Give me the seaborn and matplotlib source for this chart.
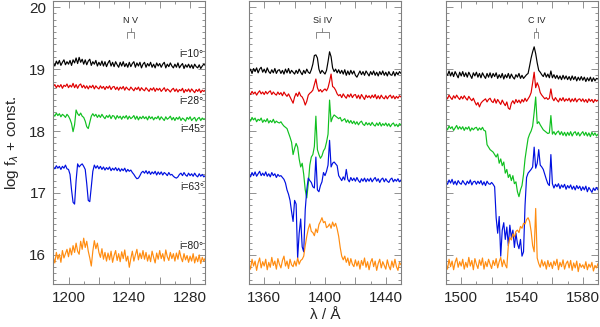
"""Model UV spectra around N V, Si IV and C IV for five inclinations."""
import matplotlib
matplotlib.use("Agg")
import matplotlib.pyplot as plt
from matplotlib.ticker import MultipleLocator, FuncFormatter
import numpy as np
import seaborn as sns

# wavelength grids (1 A steps) for the three panels
WL_NV = np.arange(1190, 1291)
WL_SI = np.arange(1350, 1451)
WL_CIV = np.arange(1490, 1591)

INCLINATIONS = ["i=10°", "i=28°", "i=45°", "i=63°", "i=80°"]
COLORS = ["#000000", "#e00000", "#10c020", "#0010e0", "#ff8c10"]

# doublet rest wavelengths marked with brackets
NV_LINES = [1238.8, 1242.8]
SI_LINES = [1393.8, 1402.8]
CIV_LINES = [1548.2, 1550.8]

# ---- N V panel ----
nv_10 = [19.10, 19.05, 19.13, 19.08, 19.14, 19.06, 19.11, 19.15, 19.07, 19.12,
         19.08, 19.14, 19.06, 19.15, 19.10, 19.18, 19.09, 19.19, 19.11, 19.16,
         19.08, 19.15, 19.07, 19.13, 19.16, 19.06, 19.12, 19.08, 19.14, 19.05,
         19.11, 19.06, 19.13, 19.05, 19.12, 19.04, 19.10, 19.14, 19.05, 19.11,
         19.04, 19.12, 19.07, 19.03, 19.11, 19.05, 19.12, 19.04, 19.09, 19.03,
         19.11, 19.04, 19.09, 19.12, 19.03, 19.10, 19.05, 19.11, 19.02, 19.08,
         19.11, 19.03, 19.09, 19.05, 19.11, 19.03, 19.08, 19.02, 19.10, 19.05,
         19.09, 19.03, 19.08, 19.11, 19.02, 19.08, 19.04, 19.10, 19.05, 19.02,
         19.08, 19.03, 19.10, 19.02, 19.06, 19.09, 19.01, 19.07, 19.03, 19.08,
         19.02, 19.07, 19.01, 19.08, 19.04, 19.02, 19.07, 19.01, 19.05, 19.08,
         19.06]
nv_28 = [18.72, 18.75, 18.70, 18.74, 18.71, 18.75, 18.69, 18.74, 18.72, 18.76,
         18.70, 18.74, 18.71, 18.77, 18.70, 18.75, 18.69, 18.74, 18.76, 18.70,
         18.74, 18.69, 18.73, 18.68, 18.73, 18.70, 18.74, 18.68, 18.73, 18.70,
         18.68, 18.73, 18.69, 18.72, 18.67, 18.72, 18.69, 18.73, 18.67, 18.71,
         18.72, 18.67, 18.71, 18.66, 18.71, 18.68, 18.72, 18.66, 18.71, 18.68,
         18.66, 18.71, 18.68, 18.65, 18.70, 18.67, 18.71, 18.65, 18.70, 18.67,
         18.65, 18.70, 18.67, 18.64, 18.69, 18.66, 18.70, 18.64, 18.69, 18.66,
         18.69, 18.64, 18.67, 18.70, 18.64, 18.68, 18.66, 18.63, 18.67, 18.69,
         18.64, 18.68, 18.63, 18.67, 18.65, 18.69, 18.62, 18.67, 18.64, 18.68,
         18.63, 18.68, 18.65, 18.62, 18.67, 18.64, 18.68, 18.62, 18.66, 18.64,
         18.66]
nv_45 = [18.27, 18.24, 18.29, 18.25, 18.28, 18.23, 18.27, 18.25, 18.22, 18.27,
         18.24, 18.19, 18.12, 17.99, 18.10, 18.34, 18.28, 18.25, 18.29, 18.24,
         18.22, 18.16, 18.07, 18.04, 18.14, 18.24, 18.28, 18.24, 18.27, 18.22,
         18.26, 18.22, 18.27, 18.23, 18.20, 18.25, 18.22, 18.26, 18.20, 18.25,
         18.24, 18.19, 18.25, 18.21, 18.24, 18.19, 18.24, 18.21, 18.25, 18.19,
         18.24, 18.20, 18.22, 18.25, 18.19, 18.24, 18.18, 18.23, 18.20, 18.24,
         18.20, 18.23, 18.18, 18.24, 18.20, 18.23, 18.18, 18.22, 18.20, 18.24,
         18.18, 18.23, 18.20, 18.17, 18.23, 18.19, 18.21, 18.24, 18.18, 18.22,
         18.17, 18.22, 18.19, 18.23, 18.17, 18.21, 18.19, 18.16, 18.22, 18.19,
         18.23, 18.17, 18.20, 18.22, 18.16, 18.20, 18.22, 18.17, 18.21, 18.19,
         18.20]
nv_63 = [17.42, 17.39, 17.44, 17.40, 17.43, 17.38, 17.43, 17.40, 17.45, 17.39,
         17.38, 17.30, 17.05, 16.85, 16.82, 17.20, 17.47, 17.42, 17.45, 17.47,
         17.43, 17.38, 17.15, 16.88, 16.86, 17.10, 17.35, 17.45, 17.40, 17.44,
         17.39, 17.43, 17.38, 17.42, 17.37, 17.41, 17.38, 17.42, 17.36, 17.40,
         17.37, 17.41, 17.36, 17.40, 17.35, 17.39, 17.36, 17.40, 17.34, 17.38,
         17.35, 17.37, 17.33, 17.30, 17.26, 17.23, 17.24, 17.28, 17.33, 17.35,
         17.32, 17.36, 17.31, 17.35, 17.30, 17.34, 17.31, 17.35, 17.29, 17.34,
         17.30, 17.34, 17.29, 17.33, 17.31, 17.28, 17.33, 17.29, 17.30, 17.27,
         17.25, 17.24, 17.26, 17.30, 17.32, 17.28, 17.33, 17.29, 17.27, 17.32,
         17.28, 17.31, 17.27, 17.32, 17.28, 17.26, 17.31, 17.27, 17.30, 17.26,
         17.28]
nv_80 = [15.96, 15.87, 16.04, 15.93, 16.01, 15.88, 16.07, 15.95, 16.02, 16.09,
         15.97, 16.11, 16.00, 16.15, 16.04, 16.19, 16.06, 16.01, 16.22, 16.09,
         16.27, 16.12, 16.22, 16.06, 15.95, 15.82, 16.06, 16.23, 16.10, 16.19,
         16.04, 15.96, 16.10, 15.93, 16.04, 15.90, 16.03, 15.92, 16.06, 15.88,
         15.99, 16.07, 15.91, 16.02, 15.89, 16.05, 15.94, 16.08, 15.90, 15.98,
         15.80, 15.94, 16.06, 15.90, 16.00, 16.09, 15.92, 16.03, 15.94, 16.07,
         15.93, 16.04, 15.90, 16.00, 15.89, 16.06, 15.96, 15.87, 16.03, 15.93,
         16.07, 15.94, 16.02, 15.90, 16.08, 15.97, 15.91, 16.04, 15.94, 16.02,
         15.90, 16.03, 15.93, 16.07, 15.96, 15.89, 16.02, 15.92, 15.99, 15.88,
         15.98, 15.90, 16.02, 15.87, 15.97, 15.89, 16.00, 15.86, 15.96, 15.90,
         15.95]

# ---- Si IV panel ----
si_10 = [18.95, 19.00, 18.93, 19.01, 18.96, 19.02, 18.94, 19.00, 19.03, 18.95,
         19.00, 18.94, 19.02, 18.96, 18.93, 18.99, 18.94, 19.01, 18.93, 18.98,
         18.99, 18.93, 18.98, 18.92, 19.00, 18.94, 19.01, 18.93, 18.98, 18.95,
         18.92, 18.98, 18.93, 19.00, 18.95, 18.91, 18.98, 18.93, 19.00, 18.95,
         18.93, 18.99, 19.08, 19.22, 19.23, 19.18, 19.00, 18.93, 18.98, 18.95,
         18.92, 18.98, 19.12, 19.28, 19.20, 19.02, 18.96, 19.00, 18.94, 18.99,
         18.93, 18.98, 18.92, 18.99, 18.90, 18.97, 18.91, 18.98, 18.92, 18.97,
         18.90, 18.87, 18.92, 18.97, 18.91, 18.96, 18.90, 18.97, 18.93, 18.89,
         18.96, 18.91, 18.97, 18.90, 18.95, 18.89, 18.96, 18.91, 18.97, 18.90,
         18.95, 18.89, 18.96, 18.91, 18.90, 18.96, 18.89, 18.95, 18.91, 18.96,
         18.93]
si_28 = [18.62, 18.59, 18.64, 18.60, 18.63, 18.58, 18.62, 18.65, 18.60, 18.63,
         18.59, 18.64, 18.60, 18.63, 18.65, 18.59, 18.63, 18.60, 18.58, 18.63,
         18.59, 18.62, 18.57, 18.63, 18.59, 18.56, 18.60, 18.55, 18.50, 18.45,
         18.55, 18.61, 18.56, 18.63, 18.57, 18.55, 18.50, 18.42, 18.48, 18.58,
         18.61, 18.63, 18.66, 18.75, 18.84, 18.70, 18.64, 18.67, 18.63, 18.66,
         18.68, 18.65, 18.70, 18.80, 18.92, 18.72, 18.70, 18.66, 18.60, 18.57,
         18.59, 18.54, 18.60, 18.56, 18.53, 18.59, 18.55, 18.60, 18.54, 18.58,
         18.59, 18.53, 18.58, 18.52, 18.59, 18.55, 18.51, 18.58, 18.54, 18.57,
         18.53, 18.58, 18.54, 18.59, 18.52, 18.57, 18.52, 18.58, 18.54, 18.52,
         18.57, 18.52, 18.56, 18.58, 18.53, 18.57, 18.52, 18.56, 18.53, 18.57,
         18.55]
si_45 = [18.20, 18.16, 18.22, 18.18, 18.21, 18.15, 18.19, 18.17, 18.21, 18.14,
         18.18, 18.15, 18.20, 18.13, 18.17, 18.14, 18.19, 18.13, 18.16, 18.14,
         18.13, 18.15, 18.11, 18.08, 18.06, 18.04, 17.97, 17.90, 17.82, 17.62,
         17.72, 17.80, 17.74, 17.55, 17.42, 17.48, 17.30, 17.05, 16.92, 17.15,
         17.45, 17.58, 17.62, 17.75, 18.24, 17.70, 17.62, 17.56, 17.60, 17.68,
         17.72, 17.82, 17.95, 18.50, 18.15, 18.22, 18.26, 18.24, 18.22, 18.20,
         18.22, 18.16, 18.18, 18.20, 18.14, 18.18, 18.13, 18.17, 18.12, 18.16,
         18.11, 18.15, 18.10, 18.14, 18.16, 18.11, 18.09, 18.14, 18.10, 18.13,
         18.09, 18.14, 18.10, 18.08, 18.13, 18.09, 18.14, 18.08, 18.12, 18.09,
         18.13, 18.08, 18.12, 18.07, 18.11, 18.13, 18.08, 18.11, 18.07, 18.12,
         18.10]
si_63 = [17.30, 17.26, 17.33, 17.28, 17.34, 17.27, 17.31, 17.35, 17.28, 17.32,
         17.28, 17.34, 17.27, 17.31, 17.26, 17.33, 17.28, 17.31, 17.25, 17.30,
         17.27, 17.28, 17.25, 17.22, 17.16, 17.05, 16.98, 16.88, 16.70, 16.54,
         16.88, 16.82, 15.95, 16.35, 16.58, 16.13, 16.05, 16.73, 17.05, 17.24,
         17.20, 17.17, 17.10, 17.08, 17.58, 17.05, 17.02, 17.12, 17.18, 17.33,
         17.28, 17.35, 17.45, 17.85, 17.42, 17.48, 17.50, 17.47, 17.44, 17.28,
         17.24, 17.20, 17.26, 17.21, 17.38, 17.22, 17.18, 17.25, 17.20, 17.24,
         17.19, 17.25, 17.20, 17.17, 17.23, 17.19, 17.24, 17.18, 17.23, 17.19,
         17.24, 17.18, 17.22, 17.25, 17.19, 17.23, 17.17, 17.22, 17.24, 17.18,
         17.23, 17.19, 17.17, 17.22, 17.24, 17.18, 17.22, 17.19, 17.23, 17.18,
         17.21]
si_80 = [15.86, 15.77, 15.93, 15.82, 15.90, 15.75, 15.87, 15.95, 15.79, 15.89,
         15.82, 15.93, 15.76, 15.88, 15.80, 15.96, 15.83, 15.90, 15.77, 15.94,
         15.85, 15.79, 15.91, 15.98, 15.82, 15.90, 15.78, 15.93, 15.84, 15.81,
         15.90, 15.82, 15.95, 15.85, 15.91, 15.93, 15.98, 16.15, 16.30, 16.42,
         16.50, 16.38, 16.36, 16.31, 16.42, 16.36, 16.49, 16.54, 16.60, 16.52,
         16.54, 16.44, 16.46, 16.50, 16.43, 16.53, 16.46, 16.51, 16.42, 16.30,
         16.12, 15.98, 15.92, 15.98, 15.88, 15.95, 15.83, 15.94, 15.85, 15.81,
         15.92, 15.82, 15.90, 15.77, 15.91, 15.83, 15.95, 15.80, 15.89, 15.76,
         15.88, 15.94, 15.81, 15.90, 15.75, 15.86, 15.93, 15.79, 15.89, 15.83,
         15.77, 15.92, 15.82, 15.76, 15.90, 15.80, 15.93, 15.81, 15.75, 15.88,
         15.84]

# ---- C IV panel ----
civ_10 = [18.94, 18.90, 18.97, 18.89, 18.95, 18.88, 18.96, 18.91, 18.86, 18.95,
          18.89, 18.96, 18.88, 18.94, 18.87, 18.95, 18.90, 18.85, 18.94, 18.89,
          18.95, 18.87, 18.93, 18.86, 18.94, 18.89, 18.85, 18.93, 18.87, 18.94,
          18.86, 18.93, 18.88, 18.94, 18.85, 18.91, 18.86, 18.93, 18.84, 18.91,
          18.86, 18.93, 18.85, 18.92, 18.87, 18.84, 18.91, 18.87, 18.93, 18.85,
          18.90, 18.85, 18.88, 18.91, 18.93, 19.05, 19.18, 19.28, 19.36, 19.25,
          19.10, 18.98, 18.95, 18.91, 18.88, 18.94, 18.87, 18.92, 18.86, 18.97,
          18.86, 18.91, 18.85, 18.90, 18.84, 18.89, 18.83, 18.90, 18.84, 18.89,
          18.83, 18.88, 18.82, 18.89, 18.83, 18.88, 18.81, 18.87, 18.82, 18.88,
          18.82, 18.87, 18.80, 18.86, 18.81, 18.87, 18.80, 18.86, 18.81, 18.85,
          18.84]
civ_28 = [18.56, 18.52, 18.58, 18.54, 18.51, 18.57, 18.53, 18.58, 18.54, 18.51,
          18.56, 18.52, 18.57, 18.53, 18.50, 18.56, 18.52, 18.49, 18.53, 18.47,
          18.42, 18.46, 18.39, 18.45, 18.48, 18.50, 18.52, 18.47, 18.51, 18.53,
          18.48, 18.46, 18.52, 18.45, 18.51, 18.47, 18.43, 18.50, 18.45, 18.41,
          18.47, 18.37, 18.35, 18.45, 18.49, 18.44, 18.51, 18.46, 18.50, 18.45,
          18.51, 18.47, 18.53, 18.48, 18.52, 18.56, 18.62, 18.78, 18.95, 18.70,
          18.78, 18.72, 18.62, 18.58, 18.55, 18.52, 18.54, 18.51, 18.53, 18.68,
          18.53, 18.49, 18.54, 18.50, 18.47, 18.53, 18.49, 18.54, 18.48, 18.52,
          18.49, 18.53, 18.47, 18.52, 18.48, 18.53, 18.47, 18.51, 18.52, 18.48,
          18.52, 18.47, 18.51, 18.46, 18.52, 18.48, 18.51, 18.46, 18.51, 18.48,
          18.50]
civ_45 = [18.06, 18.02, 18.08, 18.04, 18.07, 18.01, 18.05, 18.09, 18.03, 18.07,
          18.03, 18.07, 18.01, 18.06, 18.03, 18.07, 18.00, 18.05, 18.02, 18.05,
          18.06, 18.01, 18.05, 18.02, 18.06, 18.01, 18.00, 17.78, 17.74, 17.70,
          17.68, 17.66, 17.62, 17.58, 17.63, 17.48, 17.55, 17.44, 17.50, 17.32,
          17.38, 17.25, 17.30, 17.20, 17.28, 17.15, 17.18, 17.02, 16.94, 17.05,
          17.12, 17.30, 17.55, 17.72, 17.88, 17.95, 18.00, 18.08, 18.30, 18.55,
          18.12, 18.15, 18.10, 18.06, 18.02, 18.00, 17.98, 17.96, 17.97, 18.25,
          17.95, 17.99, 17.94, 17.98, 18.00, 17.94, 17.99, 17.93, 17.98, 17.92,
          17.98, 17.93, 17.99, 17.92, 17.97, 17.99, 17.93, 17.98, 17.92, 17.96,
          17.99, 17.93, 17.98, 17.92, 17.97, 17.91, 17.98, 17.93, 17.97, 17.92,
          17.95]
civ_63 = [17.18, 17.14, 17.21, 17.16, 17.22, 17.14, 17.19, 17.13, 17.20, 17.16,
          17.14, 17.20, 17.16, 17.13, 17.19, 17.15, 17.21, 17.13, 17.18, 17.19,
          17.14, 17.19, 17.15, 17.20, 17.13, 17.18, 17.12, 17.19, 17.15, 17.14,
          17.17, 17.14, 17.10, 16.60, 16.35, 16.62, 15.98, 16.40, 16.52, 16.25,
          16.45, 16.15, 16.48, 16.28, 16.40, 16.12, 16.35, 16.18, 16.10, 16.25,
          15.98, 16.05, 16.80, 17.25, 17.32, 17.35, 17.38, 17.42, 17.74, 17.40,
          17.48, 17.70, 17.45, 17.42, 17.38, 17.30, 17.22, 17.15, 17.12, 17.62,
          17.15, 17.08, 17.14, 17.10, 17.15, 17.07, 17.13, 17.09, 17.14, 17.06,
          17.12, 17.08, 17.13, 17.06, 17.11, 17.05, 17.12, 17.07, 17.11, 17.04,
          17.10, 17.05, 17.11, 17.02, 17.09, 17.05, 17.01, 17.08, 17.04, 17.09,
          17.05]
civ_80 = [15.86, 15.77, 15.93, 15.81, 15.90, 15.76, 15.88, 15.95, 15.80, 15.89,
          15.82, 15.93, 15.77, 15.88, 15.80, 15.96, 15.82, 15.91, 15.76, 15.94,
          15.85, 15.78, 15.92, 15.83, 15.95, 15.77, 15.89, 15.81, 15.93, 15.85,
          15.78, 15.91, 15.83, 15.94, 15.79, 15.89, 15.96, 15.81, 15.92, 15.84,
          15.79, 16.15, 16.28, 16.24, 16.34, 16.29, 16.38, 16.40, 16.36, 16.46,
          16.43, 16.51, 16.50, 16.57, 16.60, 16.54, 16.38, 16.15, 16.05, 16.75,
          15.95, 15.86, 15.80, 15.92, 15.82, 15.89, 15.77, 15.91, 15.81, 15.88,
          15.78, 15.90, 15.83, 15.93, 15.76, 15.88, 15.81, 15.92, 15.77, 15.86,
          15.90, 15.79, 15.91, 15.75, 15.87, 15.79, 15.90, 15.73, 15.86, 15.80,
          15.84, 15.78, 15.89, 15.76, 15.85, 15.80, 15.88, 15.74, 15.83, 15.79,
          15.86]

# (grid, series, x range, first labelled tick, doublet, ion name)
PANELS = [
    (WL_NV, [nv_10, nv_28, nv_45, nv_63, nv_80], (1190, 1290), 1200, NV_LINES, "N V"),
    (WL_SI, [si_10, si_28, si_45, si_63, si_80], (1350, 1450), 1360, SI_LINES, "Si IV"),
    (WL_CIV, [civ_10, civ_28, civ_45, civ_63, civ_80], (1490, 1590), 1500, CIV_LINES, "C IV"),
]

# label y positions for the inclination tags (first panel)
LABEL_Y = [19.25, 18.49, 18.04, 17.09, 16.15]

sns.set_theme(style="ticks")
plt.rcParams["font.family"] = ["Liberation Sans", "DejaVu Sans"]

FRAME = "#808080"


def tick_formatter(first):
    # label every other major tick, starting from `first`
    return FuncFormatter(lambda v, p: f"{v:.0f}" if round(v - first) % 40 == 0 else "")


fig = plt.figure(figsize=(6.0, 3.27), dpi=100)
lefts = [53.3 / 600, 249 / 600, 446 / 600]
width = 152 / 600
bottom = 1 - 284 / 327
height = 283 / 327

axes = []
for left, (wl, series, xlim, first, lines, ion) in zip(lefts, PANELS):
    ax = fig.add_axes([left, bottom, width, height])
    axes.append(ax)
    for vals, col in zip(series, COLORS):
        sns.lineplot(x=wl, y=vals, ax=ax, color=col, lw=0.85,
                     estimator=None, sort=False, legend=False)

    # doublet bracket and ion label
    lo, hi = lines
    mid = 0.5 * (lo + hi)
    ax.plot([lo, lo, hi, hi], [19.5, 19.6, 19.6, 19.5], color="#777777", lw=0.6)
    ax.plot([mid, mid], [19.6, 19.67], color="#777777", lw=0.6)
    ax.text(mid, 19.79, ion, ha="center", va="center", fontsize=6.5, color="#222222")

    ax.set_xlim(*xlim)
    ax.set_ylim(15.53, 20.1)
    ax.set_xlabel("")
    ax.set_ylabel("")
    ax.xaxis.set_major_locator(MultipleLocator(20))
    ax.xaxis.set_minor_locator(MultipleLocator(10))
    ax.xaxis.set_major_formatter(tick_formatter(first))
    ax.yaxis.set_major_locator(MultipleLocator(1))
    ax.yaxis.set_minor_locator(MultipleLocator(0.1))
    ax.tick_params(which="both", direction="in", top=True, right=True,
                   color=FRAME, width=0.6, labelsize=11, pad=5)
    ax.tick_params(which="major", length=5)
    ax.tick_params(which="minor", length=2.5)
    for sp in ax.spines.values():
        sp.set_color(FRAME)
        sp.set_linewidth(0.8)
    if ax is not axes[0]:
        ax.set_yticklabels([])

for lab, ly in zip(INCLINATIONS, LABEL_Y):
    axes[0].text(1289, ly, lab, ha="right", va="center", fontsize=7.5, color="#222222")

axes[0].set_yticks([16, 17, 18, 19, 20])
axes[0].set_ylabel(r"log f$_\lambda$ + const.", fontsize=11, labelpad=6)
axes[1].set_xlabel("λ / Å", fontsize=11, labelpad=2)

fig.savefig("out.png", dpi=100)
